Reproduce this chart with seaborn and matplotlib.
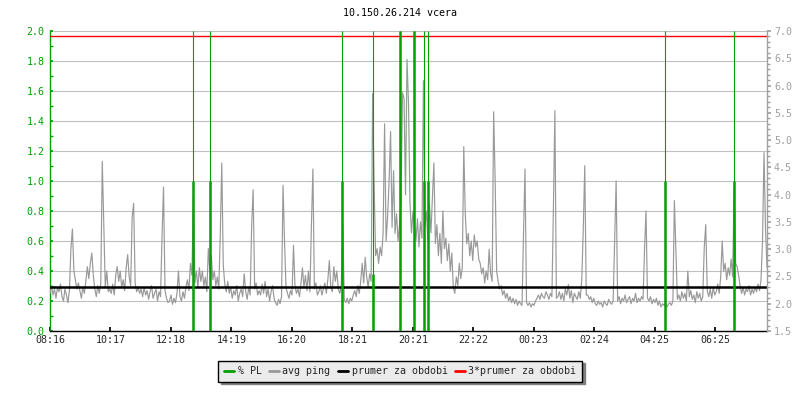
import numpy as np
import matplotlib.pyplot as plt
import seaborn as sns
from matplotlib.lines import Line2D
from matplotlib.ticker import MultipleLocator, FormatStrFormatter

# avg ping in ms, one value every 3 minutes from 08:16 (one row = one hour)
ping_ms = [
    2.19, 2.33, 2.16, 2.27, 2.10, 2.30, 2.22, 2.36, 2.13, 2.05, 2.27, 2.16, 2.02, 2.24, 3.01, 3.37, 2.60, 2.44, 2.27, 2.38,
    2.24, 2.10, 2.30, 2.19, 2.41, 2.68, 2.46, 2.74, 2.93, 2.52, 2.27, 2.13, 2.33, 2.19, 2.38, 4.61, 3.48, 2.30, 2.60, 2.22,
    2.27, 2.19, 2.36, 2.16, 2.52, 2.68, 2.41, 2.60, 2.30, 2.44, 2.24, 2.66, 2.90, 2.49, 2.33, 3.59, 3.84, 2.38, 2.22, 2.30,
    2.19, 2.27, 2.13, 2.30, 2.16, 2.24, 2.08, 2.22, 2.33, 2.10, 2.19, 2.27, 2.05, 2.22, 2.13, 3.23, 4.14, 2.24, 2.10, 2.02,
    2.05, 2.16, 1.99, 2.10, 2.02, 2.19, 2.60, 2.13, 2.05, 2.22, 2.10, 2.30, 2.44, 2.24, 2.74, 2.52, 3.98, 2.38, 2.60, 2.30,
    2.66, 2.41, 2.60, 2.33, 2.49, 2.22, 3.01, 2.60, 2.88, 2.44, 2.60, 2.33, 2.49, 2.27, 3.30, 4.58, 2.70, 2.36, 2.22, 2.41,
    2.19, 2.30, 2.10, 2.24, 2.16, 2.33, 2.05, 2.19, 2.27, 2.13, 2.55, 2.22, 2.08, 2.30, 2.16, 3.43, 4.09, 2.27, 2.38, 2.16,
    2.24, 2.16, 2.36, 2.19, 2.41, 2.13, 2.27, 2.05, 2.22, 2.33, 2.10, 2.02, 1.97, 2.08, 2.00, 2.13, 4.17, 3.15, 2.30, 2.19,
    2.10, 2.24, 2.16, 3.07, 2.33, 2.19, 2.27, 2.13, 2.36, 2.66, 2.30, 2.52, 2.24, 2.60, 2.22, 3.43, 4.47, 2.27, 2.38, 2.16,
    2.22, 2.33, 2.16, 2.27, 2.38, 2.19, 2.44, 2.79, 2.30, 2.22, 2.68, 2.41, 2.60, 2.27, 2.19, 2.33, 3.45, 2.08, 2.02, 2.10,
    2.00, 2.10, 2.05, 2.16, 2.24, 2.13, 2.33, 2.19, 2.41, 2.74, 2.38, 2.85, 2.49, 2.30, 2.55, 2.41, 5.85, 4.14, 2.88, 3.01,
    2.74, 3.04, 2.88, 3.30, 5.30, 3.15, 3.59, 4.25, 5.16, 3.40, 4.44, 3.29, 3.65, 3.15, 3.45, 3.90, 5.87, 5.76, 4.00, 6.48,
    5.68, 3.84, 3.30, 3.70, 3.43, 3.15, 3.56, 3.04, 3.50, 3.20, 6.09, 3.40, 3.70, 3.15, 3.84, 3.30, 3.92, 4.58, 3.10, 3.45,
    2.88, 3.29, 2.74, 3.70, 3.01, 3.20, 2.79, 3.10, 2.60, 2.93, 2.30, 2.19, 2.49, 2.33, 2.74, 2.46, 2.66, 4.88, 3.65, 3.10,
    3.29, 2.88, 3.15, 2.79, 3.26, 3.04, 3.15, 2.82, 2.74, 2.55, 2.66, 2.38, 2.60, 2.44, 3.00, 2.55, 2.41, 5.52, 4.28, 2.60,
    2.41, 2.27, 2.33, 2.16, 2.24, 2.10, 2.19, 2.05, 2.13, 2.02, 2.10, 2.00, 2.08, 1.97, 2.05, 2.00, 1.97, 3.30, 4.47, 2.02,
    1.97, 2.02, 1.94, 2.00, 1.97, 2.05, 2.10, 2.16, 2.08, 2.19, 2.13, 2.10, 2.22, 2.16, 2.08, 2.19, 2.13, 3.73, 5.54, 2.10,
    2.13, 2.22, 2.08, 2.19, 2.05, 2.27, 2.16, 2.35, 2.10, 2.24, 2.02, 2.19, 2.13, 2.08, 2.22, 2.10, 2.44, 3.37, 4.53, 2.16,
    2.16, 2.08, 2.13, 2.02, 2.10, 2.00, 1.97, 2.05, 1.99, 2.02, 1.94, 2.05, 2.00, 1.97, 2.08, 2.02, 1.99, 2.05, 3.15, 4.25,
    2.05, 2.13, 2.00, 2.10, 2.05, 2.16, 2.02, 2.08, 2.13, 2.00, 2.10, 2.05, 2.19, 2.02, 2.10, 2.05, 2.13, 2.08, 2.99, 3.70,
    2.10, 2.05, 2.13, 2.00, 2.08, 2.02, 2.10, 1.97, 2.05, 1.94, 2.00, 1.97, 2.02, 1.94, 1.99, 2.02, 1.97, 2.05, 3.89, 3.01,
    2.08, 2.16, 2.05, 2.22, 2.10, 2.19, 2.05, 2.60, 2.13, 2.24, 2.08, 2.16, 2.02, 2.22, 2.10, 2.19, 2.05, 2.13, 3.04, 3.45,
    2.24, 2.13, 2.27, 2.10, 2.30, 2.16, 2.22, 2.36, 2.19, 2.49, 3.15, 2.60, 2.74, 2.44, 2.66, 2.52, 2.82, 2.49, 4.11, 2.74,
    2.68, 2.52, 2.33, 2.19, 2.30, 2.16, 2.27, 2.22, 2.33, 2.16, 2.27, 2.19, 2.30, 2.22, 2.36, 2.24, 2.44, 3.15, 4.77, 3.37,
    2.66,
]
sample_h = 0.05

# packet loss events (hours after 08:16), short bar height and spike height
pl_hour = [4.79, 5.36, 9.77, 10.81, 11.70, 12.17, 12.52, 12.65, 20.59, 22.90]
pl_level = [1.0, 1.0, 1.0, 0.38, 2.0, 2.0, 1.0, 1.0, 1.0, 1.0]
pl_peak = [2.0, 2.0, 2.0, 2.0, 2.0, 2.0, 2.0, 2.0, 2.0, 2.0]

mean_ping = 2.3
time_labels = ["08:16", "10:17", "12:18", "14:19", "16:20", "18:21",
               "20:21", "22:22", "00:23", "02:24", "04:25", "06:25"]
tick_step_h = 2.0245

GREEN = "#00a000"
GREY = "#999999"
AXGREY = "#a0a0a0"
FS = 7.2

sns.set_theme(style="white")
plt.rcParams['font.family'] = ['DejaVu Sans Mono']
plt.rcParams['font.size'] = FS

fig = plt.figure(figsize=(8, 4), dpi=100)
ax = fig.add_axes([50 / 800, 69 / 400, 717 / 800, 300 / 400])
ax2 = ax.twinx()
ax3 = ax.twinx()

hours = np.arange(len(ping_ms)) * sample_h
sns.lineplot(x=hours, y=ping_ms, ax=ax2, color=GREY, linewidth=0.85, estimator=None)
ax2.axhline(mean_ping, color="black", linewidth=1.8)
ax2.axhline(3 * mean_ping, color="red", linewidth=1.0)

ax3.vlines(pl_hour, 0, pl_peak, color=GREEN, linewidth=0.8)
ax3.vlines(pl_hour, 0, pl_level, color=GREEN, linewidth=1.8)

# left axis: % PL
ax.set_xlim(0, 24)
ax.set_ylim(0, 2)
ax.yaxis.set_major_locator(MultipleLocator(0.2))
ax.yaxis.set_minor_locator(MultipleLocator(0.1))
ax.yaxis.set_major_formatter(FormatStrFormatter('%.1f'))
ax.tick_params(axis='y', which='both', direction='in', length=2.2, color=GREEN,
               labelcolor=GREEN, left=True, pad=4, labelsize=FS)
ax.grid(axis='y', color='#c0c0c0', linewidth=0.8)
ax.set_xticks([k * tick_step_h for k in range(len(time_labels))], time_labels)
ax.tick_params(axis='x', direction='in', length=3, color='black', bottom=True,
               pad=3, labelsize=FS)
for s in ['top', 'right']:
    ax.spines[s].set_visible(False)
ax.spines['left'].set_color(GREEN)
ax.spines['left'].set_linewidth(1.0)
ax.spines['bottom'].set_color('black')
ax.spines['bottom'].set_linewidth(1.0)

# right axis: ping ms
ax2.set_ylim(1.5, 7.0)
ax2.yaxis.set_major_locator(MultipleLocator(0.5))
ax2.yaxis.set_minor_locator(MultipleLocator(0.1))
ax2.yaxis.set_major_formatter(FormatStrFormatter('%.1f'))
ax2.tick_params(axis='y', which='major', direction='out', length=3, color=AXGREY,
                labelcolor=AXGREY, right=True, pad=2, labelsize=FS)
ax2.tick_params(axis='y', which='minor', direction='out', length=2, color=AXGREY, right=True)
ax2.set_xlabel('')
ax2.set_ylabel('')
for s in ['top', 'left', 'bottom']:
    ax2.spines[s].set_visible(False)
ax2.spines['right'].set_color(AXGREY)
ax2.spines['right'].set_linewidth(1.0)

ax3.set_ylim(0, 2)
ax3.set_axis_off()

fig.text(0.5, 1 - 13 / 400, "10.150.26.214 vcera", ha='center', va='center',
         color='black', fontsize=FS)

handles = [Line2D([], [], color=GREEN, linewidth=2),
           Line2D([], [], color=GREY, linewidth=2),
           Line2D([], [], color='black', linewidth=2),
           Line2D([], [], color='red', linewidth=2)]
labels = ["% PL", "avg ping", "prumer za obdobi", "3*prumer za obdobi"]
leg = fig.legend(handles, labels, loc='center', bbox_to_anchor=(0.5, 1 - 371 / 400),
                 ncol=4, frameon=True, fancybox=False,
                 shadow={'color': '#808080', 'alpha': 1.0},
                 edgecolor='black', facecolor='#ebebeb', framealpha=1,
                 handlelength=1.0, handletextpad=0.4, columnspacing=0.7,
                 borderpad=0.55, fontsize=FS)
leg.get_frame().set_linewidth(1.0)

fig.savefig('out.png', dpi=100)
